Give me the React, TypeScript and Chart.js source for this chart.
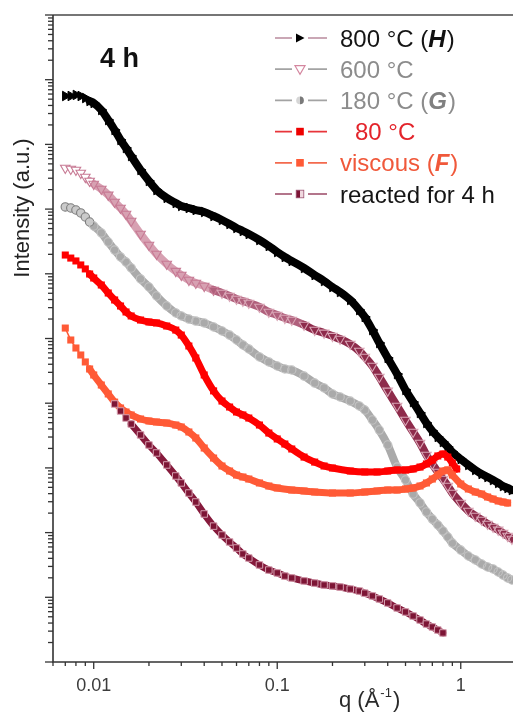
import React, { useEffect, useRef } from 'react';
import { Chart, registerables } from 'chart.js';

Chart.register(...registerables);

// ---------- data ----------
const qMain = [
  0.007, 0.0075, 0.008, 0.0085, 0.009, 0.0095, 0.010, 0.011, 0.012, 0.013, 0.014, 0.015, 0.016,
  0.018, 0.020, 0.022, 0.025, 0.028, 0.030, 0.033, 0.036, 0.040, 0.045, 0.050, 0.055, 0.060,
  0.065, 0.070, 0.080, 0.090, 0.100, 0.110, 0.120, 0.140, 0.160, 0.180, 0.200, 0.220, 0.250,
  0.280, 0.300, 0.330, 0.360, 0.400, 0.450, 0.500, 0.550, 0.600, 0.650, 0.700, 0.750, 0.800,
  0.850, 0.900, 1.000, 1.100, 1.200, 1.300, 1.400, 1.500, 1.600, 1.700, 1.800, 1.900,
];

const intensity800 = [
  5.6e8, 5.6e8, 5.81e8, 5.6e8, 5.21e8, 4.69e8, 4.37e8, 3.4e8, 2.38e8, 1.67e8, 1.17e8, 8.79e7, 6.62e7,
  4.02e7, 2.72e7, 1.97e7, 1.49e7, 1.24e7, 1.12e7, 1.04e7, 9.68e6, 9.02e6, 7.82e6, 6.79e6, 5.89e6, 5.11e6,
  4.59e6, 4.12e6, 3.33e6, 2.69e6, 2.17e6, 1.82e6, 1.58e6, 1.23e6, 9.57e5, 7.74e5, 6.25e5, 5.24e5, 3.94e5,
  2.75e5, 2.15e5, 1.35e5, 8.51e4, 5.0e4, 2.82e4, 1.6e4, 1.04e4, 7.06e3, 4.94e3, 3.72e3, 3.01e3, 2.51e3,
  2.1e3, 1.76e3, 1.37e3, 1.11e3, 929, 805, 723, 650, 585, 525, 489, 455,
];

const intensity600 = [
  4.32e7, 4.17e7, 4.02e7, 3.61e7, 3.13e7, 2.72e7, 2.44e7, 2.05e7, 1.66e7, 1.29e7, 1.04e7, 8.4e6, 6.56e6,
  4.12e6, 2.79e6, 2.02e6, 1.42e6, 1.1e6, 9.57e5, 8.01e5, 7.21e5, 6.47e5, 5.62e5, 5.05e5, 4.54e5, 4.08e5,
  3.8e5, 3.54e5, 3.07e5, 2.57e5, 2.31e5, 2.07e5, 1.93e5, 1.62e5, 1.35e5, 1.22e5, 1.09e5, 9.82e4, 8.22e4,
  6.41e4, 5.18e4, 3.76e4, 2.54e4, 1.55e4, 9.06e3, 5.5e3, 3.59e3, 2.43e3, 1.58e3, 1.15e3, 865, 673,
  525, 409, 287, 216, 181, 157, 136, 122, 110, 98.6, 88.5, 79.6,
];

const intensity180 = [
  1.08e7, 1.04e7, 9.68e6, 8.71e6, 7.55e6, 6.32e6, 5.48e6, 4.28e6, 3.1e6, 2.33e6, 1.82e6, 1.52e6, 1.23e6,
  8.32e5, 6.25e5, 4.54e5, 3.18e5, 2.48e5, 2.23e5, 2.0e5, 1.86e5, 1.74e5, 1.51e5, 1.31e5, 1.13e5, 9.48e4,
  7.94e4, 6.89e4, 5.18e4, 4.34e4, 3.76e4, 3.38e4, 3.26e4, 2.63e4, 2.05e4, 1.72e4, 1.39e4, 1.25e4, 1.08e4,
  9.06e3, 7.85e3, 5.5e3, 3.85e3, 2.26e3, 1.03e3, 650, 395, 287, 208, 162, 131, 106,
  85.5, 69.0, 53.8, 43.5, 37.8, 32.7, 29.4, 27.4, 24.6, 22.1, 19.9, 18.5,
];

const q80 = [
  0.007, 0.0075, 0.008, 0.0085, 0.009, 0.0095, 0.010, 0.011, 0.012, 0.013, 0.014, 0.015, 0.016,
  0.018, 0.020, 0.022, 0.025, 0.028, 0.030, 0.033, 0.036, 0.040, 0.045, 0.050, 0.055, 0.060,
  0.065, 0.070, 0.080, 0.090, 0.100, 0.110, 0.120, 0.140, 0.160, 0.180, 0.200, 0.250, 0.300,
  0.350, 0.400, 0.450, 0.500, 0.550, 0.600, 0.650, 0.700, 0.750, 0.800, 0.850, 0.900, 0.950,
];

const intensity80 = [
  1.95e6, 1.75e6, 1.58e6, 1.37e6, 1.19e6, 9.93e5, 8.61e5, 6.71e5, 5.05e5, 3.94e5, 3.18e5, 2.57e5, 2.23e5,
  1.93e5, 1.8e5, 1.74e5, 1.56e5, 1.35e5, 1.13e5, 7.66e4, 5.0e4, 2.73e4, 1.55e4, 1.08e4, 8.73e3, 7.31e3,
  6.58e3, 5.9e3, 4.6e3, 3.46e3, 2.8e3, 2.34e3, 1.96e3, 1.47e3, 1.23e3, 1.07e3, 995, 895, 865,
  865, 895, 929, 929, 962, 1.03e3, 1.15e3, 1.32e3, 1.53e3, 1.64e3, 1.47e3, 1.19e3, 962,
];

const qViscous = [
  0.007, 0.0075, 0.008, 0.0085, 0.009, 0.0095, 0.010, 0.011, 0.012, 0.013, 0.014, 0.015, 0.016,
  0.018, 0.020, 0.022, 0.025, 0.028, 0.030, 0.033, 0.036, 0.040, 0.045, 0.050, 0.055, 0.060,
  0.065, 0.070, 0.080, 0.090, 0.100, 0.120, 0.140, 0.160, 0.200, 0.250, 0.300, 0.350, 0.400,
  0.450, 0.500, 0.550, 0.600, 0.650, 0.700, 0.750, 0.800, 0.850, 0.900, 1.000, 1.100, 1.200,
  1.300, 1.400, 1.500, 1.600, 1.700, 1.800,
];

const intensityViscous = [
  1.45e5, 9.48e4, 7.13e4, 5.56e4, 4.34e4, 3.38e4, 2.73e4, 1.91e4, 1.39e4, 1.04e4, 8.43e3, 7.31e3, 6.58e3,
  5.7e3, 5.31e3, 5.12e3, 4.94e3, 4.6e3, 4.29e3, 3.59e3, 2.9e3, 2.03e3, 1.42e3, 1.07e3, 895, 776,
  723, 673, 585, 525, 489, 455, 440, 424, 409, 409, 424, 440, 455,
  455, 472, 489, 525, 585, 673, 776, 895, 929, 776, 564, 472, 424,
  395, 355, 330, 308, 297, 287,
];

const qReacted = [
  0.013, 0.014, 0.015, 0.016, 0.018, 0.020, 0.022, 0.025, 0.028, 0.030, 0.033, 0.036, 0.040,
  0.045, 0.050, 0.055, 0.060, 0.065, 0.070, 0.080, 0.090, 0.100, 0.110, 0.120, 0.140, 0.160,
  0.180, 0.200, 0.220, 0.250, 0.280, 0.300, 0.330, 0.360, 0.400, 0.450, 0.500, 0.550, 0.600,
  0.650, 0.700, 0.750, 0.800,
];

const intensityReacted = [
  9.72e3, 7.57e3, 5.9e3, 4.77e3, 3.23e3, 2.26e3, 1.7e3, 1.11e3, 750, 585, 409, 297, 194,
  126, 91.8, 71.6, 57.8, 46.7, 40.5, 31.6, 26.4, 23.8, 21.3, 19.9, 17.9, 16.6,
  15.5, 15.0, 14.4, 13.4, 12.5, 11.6, 10.5, 9.42, 8.17, 6.84, 5.93, 5.14, 4.46,
  3.86, 3.48, 3.12, 2.81,
];

const legendLabels = ['800 °C (H)', '600 °C', '180 °C (G)', '80 °C', 'viscous (F)', 'reacted for 4 h'];
const xTickValues = [0.01, 0.1, 1];
const xTickLabels = ['0.01', '0.1', '1'];
const panelLabel = '4 h';
const yTitle = 'Intensity (a.u.)';
const xTitleParts = ['q (Å', '-1', ')'];

// ---------- styles ----------
const FONT = '"Liberation Sans", Arial, Helvetica, sans-serif';

const legendStyle = [
  { text: '#151515', bold: '#111111', line: '#b98a9d', marker: 'triR', indent: 0 },
  { text: '#8c8c8c', bold: '#8c8c8c', line: '#a3a3a3', marker: 'triD', indent: 0 },
  { text: '#8c8c8c', bold: '#808080', line: '#a3a3a3', marker: 'halfCircle', indent: 0 },
  { text: '#e3242b', bold: '#e3242b', line: '#e8353a', marker: 'sqRed', indent: 15 },
  { text: '#f0583a', bold: '#f0583a', line: '#f36a4e', marker: 'sqOrange', indent: 0 },
  { text: '#151515', bold: '#151515', line: '#9b4866', marker: 'halfSq', indent: 0 },
];

const toPoints = (xs: number[], ys: number[]) => xs.map((x, i) => ({ x, y: ys[i] }));

function drawRich(ctx: CanvasRenderingContext2D, text: string, x: number, y: number, color: string, boldColor: string, size: number) {
  const parts = text.split(/(\([A-Z]\))/);
  let cx = x;
  const normal = `${size}px ${FONT}`;
  const bi = `italic bold ${size}px ${FONT}`;
  ctx.fillStyle = color;
  for (const p of parts) {
    if (!p) continue;
    const m = p.match(/^\(([A-Z])\)$/);
    if (m) {
      ctx.font = normal; ctx.fillStyle = color;
      ctx.fillText('(', cx, y); cx += ctx.measureText('(').width;
      ctx.font = bi; ctx.fillStyle = boldColor;
      ctx.fillText(m[1], cx, y); cx += ctx.measureText(m[1]).width + 1;
      ctx.font = normal; ctx.fillStyle = color;
      ctx.fillText(')', cx, y); cx += ctx.measureText(')').width;
    } else {
      ctx.font = normal; ctx.fillStyle = color;
      ctx.fillText(p, cx, y); cx += ctx.measureText(p).width;
    }
  }
}

function drawMarker(ctx: CanvasRenderingContext2D, kind: string, x: number, y: number) {
  ctx.save();
  if (kind === 'triR') {
    ctx.fillStyle = '#000';
    ctx.beginPath(); ctx.moveTo(x - 4, y - 4.5); ctx.lineTo(x + 4.5, y); ctx.lineTo(x - 4, y + 4.5); ctx.closePath(); ctx.fill();
  } else if (kind === 'triD') {
    ctx.strokeStyle = '#d4869f'; ctx.lineWidth = 1.2; ctx.fillStyle = '#fff';
    ctx.beginPath(); ctx.moveTo(x - 5, y - 3.5); ctx.lineTo(x + 5, y - 3.5); ctx.lineTo(x, y + 5); ctx.closePath(); ctx.fill(); ctx.stroke();
  } else if (kind === 'halfCircle') {
    ctx.fillStyle = '#d6d6d6';
    ctx.beginPath(); ctx.arc(x, y, 3.8, 0, Math.PI * 2); ctx.fill();
    ctx.fillStyle = '#7a7a7a';
    ctx.beginPath(); ctx.arc(x, y, 3.8, -Math.PI / 2, Math.PI / 2); ctx.closePath(); ctx.fill();
  } else if (kind === 'sqRed' || kind === 'sqOrange') {
    ctx.fillStyle = kind === 'sqRed' ? '#ee0000' : '#ff5a36';
    ctx.fillRect(x - 3.8, y - 3.8, 7.6, 7.6);
  } else if (kind === 'halfSq') {
    ctx.fillStyle = '#f0d8df'; ctx.fillRect(x - 3.8, y - 3.8, 7.6, 7.6);
    ctx.fillStyle = '#7d1535'; ctx.fillRect(x - 3.8, y - 3.8, 3.8, 7.6);
    ctx.strokeStyle = '#9a5070'; ctx.lineWidth = 0.8; ctx.strokeRect(x - 3.8, y - 3.8, 7.6, 7.6);
  }
  ctx.restore();
}

const decorPlugin = {
  id: 'decor',
  afterDatasetsDraw(chart: any) {
    const { ctx, chartArea: a, scales } = chart;
    const xs = scales.x;
    const ys = scales.y;
    const W = chart.width;
    ctx.save();

    // frame
    ctx.strokeStyle = '#767676';
    ctx.lineWidth = 2;
    ctx.beginPath(); ctx.moveTo(a.left, a.top); ctx.lineTo(W, a.top); ctx.stroke();
    ctx.strokeStyle = '#333333';
    ctx.lineWidth = 1.6;
    ctx.beginPath(); ctx.moveTo(a.left, a.top); ctx.lineTo(a.left, a.bottom); ctx.lineTo(W, a.bottom); ctx.stroke();

    // y ticks (log decades)
    ctx.lineWidth = 1.3;
    for (let e = 0; e <= 10; e++) {
      for (let m = 1; m <= 9; m++) {
        const v = m * Math.pow(10, e);
        if (v > ys.max * 1.0001) break;
        const py = ys.getPixelForValue(v);
        const len = m === 1 ? 8 : 5;
        ctx.beginPath(); ctx.moveTo(a.left - len, py); ctx.lineTo(a.left, py); ctx.stroke();
      }
    }
    // x ticks
    for (let e = -3; e <= 0; e++) {
      for (let m = 1; m <= 9; m++) {
        const v = m * Math.pow(10, e);
        if (v < xs.min * 0.9999 || v > xs.max * 1.0001) continue;
        const px = xs.getPixelForValue(v);
        const len = m === 1 ? 7 : 4;
        ctx.beginPath(); ctx.moveTo(px, a.bottom); ctx.lineTo(px, a.bottom + len); ctx.stroke();
      }
    }

    // x tick labels
    ctx.fillStyle = '#3c3c3c';
    ctx.font = `18px ${FONT}`;
    ctx.textAlign = 'center';
    ctx.textBaseline = 'alphabetic';
    xTickValues.forEach((v, i) => {
      ctx.fillText(xTickLabels[i], xs.getPixelForValue(v), a.bottom + 29);
    });

    // x title
    ctx.textAlign = 'left';
    ctx.fillStyle = '#2a2a2a';
    let tx = 339;
    const tb = a.bottom + 45;
    ctx.font = `22px ${FONT}`;
    ctx.fillText(xTitleParts[0], tx, tb); tx += ctx.measureText(xTitleParts[0]).width + 1;
    ctx.font = `13px ${FONT}`;
    ctx.fillText(xTitleParts[1], tx, tb - 10); tx += ctx.measureText(xTitleParts[1]).width + 1;
    ctx.font = `22px ${FONT}`;
    ctx.fillText(xTitleParts[2], tx, tb);

    // y title
    ctx.save();
    ctx.translate(29, 208);
    ctx.rotate(-Math.PI / 2);
    ctx.textAlign = 'center';
    ctx.font = `22px ${FONT}`;
    ctx.fillStyle = '#222222';
    ctx.fillText(yTitle, 0, 0);
    ctx.restore();

    // panel label
    ctx.font = `bold 27px ${FONT}`;
    ctx.fillStyle = '#111111';
    ctx.textAlign = 'left';
    ctx.fillText(panelLabel, 100, 67);

    // legend
    legendLabels.forEach((label, i) => {
      const st = legendStyle[i];
      const cy = 38 + i * 31.2;
      ctx.strokeStyle = st.line;
      ctx.lineWidth = 1.7;
      ctx.beginPath(); ctx.moveTo(275, cy); ctx.lineTo(292, cy); ctx.moveTo(308, cy); ctx.lineTo(327, cy); ctx.stroke();
      drawMarker(ctx, st.marker, 300, cy);
      ctx.textAlign = 'left';
      drawRich(ctx, label, 340 + st.indent, cy + 8.5, st.text, st.bold, 24);
    });

    ctx.restore();
  },
};

export default function App() {
  const ref = useRef<HTMLCanvasElement | null>(null);

  useEffect(() => {
    if (!ref.current) return;
    const common = {
      showLine: true,
      cubicInterpolationMode: 'monotone',
      borderJoinStyle: 'round',
      borderCapStyle: 'round',
      pointHoverRadius: 0,
    };
    const chart = new Chart(ref.current, {
      type: 'scatter',
      data: {
        datasets: [
          {
            ...common,
            label: legendLabels[0],
            order: 6,
            data: toPoints(qMain, intensity800),
            borderColor: '#000000',
            borderWidth: 8,
            segment: { borderWidth: (c: any) => (c.p1.parsed.x < 0.0099 ? 1.2 : 8) },
            pointStyle: 'triangle',
            pointRotation: 90,
            pointRadius: 5.5,
            pointBackgroundColor: '#000000',
            pointBorderColor: '#000000',
            pointBorderWidth: 1,
          },
          {
            ...common,
            label: legendLabels[1],
            order: 5,
            data: toPoints(qMain, intensity600),
            borderColor: '#8e2b4b',
            borderWidth: 8,
            segment: {
              borderColor: (c: any) => {
                const x = c.p1.parsed.x;
                if (x < 0.0099) return 'rgba(0,0,0,0)';
                if (x < 0.05) return '#d7a1b2';
                if (x < 0.15) return '#b0607c';
                return '#8e2b4b';
              },
              borderWidth: (c: any) => (c.p1.parsed.x < 0.0099 ? 1 : 8),
            },
            pointStyle: 'triangle',
            pointRotation: 180,
            pointRadius: 5.5,
            pointBackgroundColor: (c: any) => (c.raw && c.raw.x < 0.0099 ? '#ffffff' : 'rgba(255,255,255,0)'),
            pointBorderColor: (c: any) => (c.raw && c.raw.x < 0.05 ? '#c77a94' : '#d9a6b6'),
            pointBorderWidth: 1.1,
          },
          {
            ...common,
            label: legendLabels[2],
            order: 4,
            data: toPoints(qMain, intensity180),
            borderColor: '#a8a8a8',
            borderWidth: 8,
            segment: {
              borderColor: (c: any) => (c.p1.parsed.x < 0.0099 ? 'rgba(0,0,0,0)' : '#aaaaaa'),
              borderWidth: (c: any) => (c.p1.parsed.x < 0.0099 ? 1 : 8),
            },
            pointStyle: 'circle',
            pointRadius: 4.2,
            pointBackgroundColor: (c: any) => (c.raw && c.raw.x < 0.0099 ? '#cacaca' : 'rgba(0,0,0,0)'),
            pointBorderColor: (c: any) => (c.raw && c.raw.x < 0.0099 ? '#7d7d7d' : '#c4c4c4'),
            pointBorderWidth: 1.1,
          },
          {
            ...common,
            label: legendLabels[3],
            order: 3,
            data: toPoints(q80, intensity80),
            borderColor: '#ff0000',
            borderWidth: 7,
            segment: { borderWidth: (c: any) => (c.p1.parsed.x < 0.0099 ? 1.5 : 7) },
            pointStyle: 'rect',
            pointRadius: 5,
            pointBackgroundColor: '#ff0000',
            pointBorderColor: '#ff0000',
            pointBorderWidth: 0,
          },
          {
            ...common,
            label: legendLabels[4],
            order: 2,
            data: toPoints(qViscous, intensityViscous),
            borderColor: '#ff5a36',
            borderWidth: 7,
            segment: { borderWidth: (c: any) => (c.p1.parsed.x < 0.0099 ? 1.5 : 7) },
            pointStyle: 'rect',
            pointRadius: 5,
            pointBackgroundColor: '#ff5a36',
            pointBorderColor: '#ff5a36',
            pointBorderWidth: 0,
          },
          {
            ...common,
            label: legendLabels[5],
            order: 1,
            data: toPoints(qReacted, intensityReacted),
            borderColor: '#861a3c',
            borderWidth: 7,
            segment: { borderWidth: (c: any) => (c.p1.parsed.x < 0.0175 ? 1.2 : 7) },
            pointStyle: 'rect',
            pointRadius: 4.6,
            pointBackgroundColor: '#7d1535',
            pointBorderColor: '#d7a2b2',
            pointBorderWidth: 1,
          },
        ],
      } as any,
      options: {
        responsive: false,
        devicePixelRatio: 1,
        animation: false,
        events: [],
        layout: { padding: { left: 53, right: 14, top: 15, bottom: 51 } },
        plugins: { legend: { display: false }, tooltip: { enabled: false }, title: { display: false } },
        scales: {
          x: { type: 'logarithmic', min: 0.006, max: 2, display: false },
          y: { type: 'logarithmic', min: 1, max: 1e10, display: false },
        },
      } as any,
      plugins: [decorPlugin],
    });
    return () => chart.destroy();
  }, []);

  return (
    <div style={{ position: 'fixed', left: 0, top: 0, width: 513, height: 713, overflow: 'hidden', background: '#ffffff' }}>
      <canvas ref={ref} width={530} height={713} style={{ display: 'block', width: 530, height: 713 }} />
    </div>
  );
}
